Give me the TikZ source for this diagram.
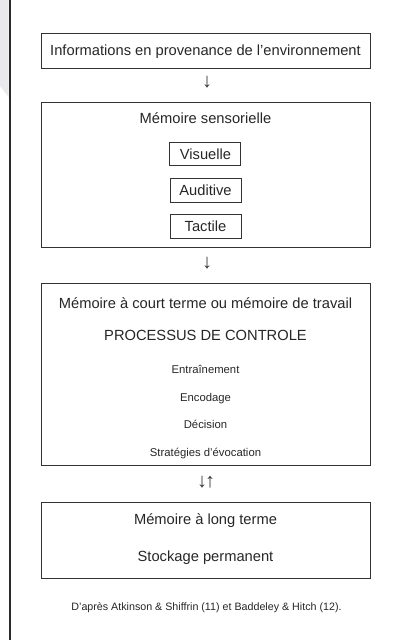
\documentclass[tikz,border=0pt]{standalone}
\usepackage{fontspec}
\setmainfont{Liberation Sans}
\definecolor{edge}{HTML}{333333}
\definecolor{band}{HTML}{E9E9EB}
\definecolor{rule}{HTML}{2A2A2A}
\begin{document}
\begin{tikzpicture}[x=1pt,y=-1pt,
  box/.style={draw=edge,line width=0.9pt,rectangle,inner sep=0pt,minimum width=329pt},
  subbox/.style={draw=edge,line width=0.9pt,rectangle,inner sep=0pt,minimum width=71pt,minimum height=23.5pt},
  big/.style={inner sep=0pt,anchor=base,text=black!85,font=\fontsize{14.7}{17}\selectfont},
  small/.style={inner sep=0pt,anchor=base,text=black!85,font=\fontsize{11.3}{13}\selectfont},
  captiontext/.style={inner sep=0pt,anchor=base,text=black!85,font=\fontsize{10.7}{12}\selectfont},
  arr/.style={inner sep=0pt,anchor=center,text=black!80,font=\fontsize{20}{22}\selectfont}]
\useasboundingbox (0,0) rectangle (394,640);
\fill[band] (0,0) -- (8.5,0) -- (8.5,97) -- (0,86) -- cycle;
\draw[rule,line width=2.6pt] (10,0) -- (10,640);
% boxes
\node[box,minimum height=35pt] (env) at (205.5,50.5) {};
\node[big] (envt) at (205.5,55.5) {Informations en provenance de l’environnement};
\node[arr] (a1) at (207,82) {↓};
\node[box,minimum height=145pt] (sens) at (205.5,174.5) {};
\node[big] (senst) at (205.5,123) {Mémoire sensorielle};
\node[subbox] (vis) at (205,154) {};
\node[big] (vist) at (205.5,159) {Visuelle};
\node[subbox] (aud) at (205.5,190.5) {};
\node[big] (audt) at (205.5,195.5) {Auditive};
\node[subbox] (tac) at (205.5,226.5) {};
\node[big] (tact) at (205.5,231.5) {Tactile};
\node[arr] (a2) at (207,263) {↓};
\node[box,minimum height=182pt] (court) at (205.5,374) {};
\node[big] (courtt) at (205.5,308) {Mémoire à court terme ou mémoire de travail};
\node[big] (proc) at (205.5,340.5) {PROCESSUS DE CONTROLE};
\node[small] (entr) at (205.5,373) {Entraînement};
\node[small] (enco) at (205.5,401) {Encodage};
\node[small] (deci) at (205.5,428) {Décision};
\node[small] (strat) at (205.5,456) {Stratégies d’évocation};
\node[arr] (a3) at (206,482) {↓\kern-2pt↑};
\node[box,minimum height=76pt] (long) at (205.5,540) {};
\node[big] (longt) at (205.5,524) {Mémoire à long terme};
\node[big] (stock) at (205.5,561) {Stockage permanent};
\node[captiontext] (src) at (206.5,610) {D’après Atkinson \& Shiffrin (11) et Baddeley \& Hitch (12).};
\end{tikzpicture}
\end{document}
